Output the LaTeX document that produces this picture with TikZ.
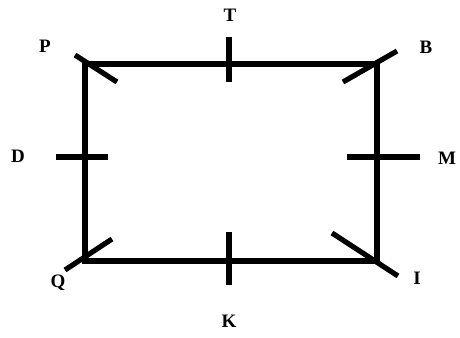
\documentclass[tikz,border=0pt]{standalone}
\usepackage{fontspec}
\setmainfont{Liberation Serif}
\begin{document}
\begin{tikzpicture}[x=1pt,y=-1pt,
  edge/.style={line width=5.2pt,line cap=rect,line join=miter},
  tickmark/.style={line width=5.2pt},
  lbl/.style={font=\fontsize{19}{19}\selectfont\bfseries,inner sep=0pt}]
\useasboundingbox (0,0) rectangle (460,337);
% corners
\coordinate (cP) at (85,64);
\coordinate (cB) at (377,64);
\coordinate (cI) at (377,261);
\coordinate (cQ) at (85,261);
\draw[edge] (cP) -- (cB) -- (cI) -- (cQ) -- cycle;
% tick end points
\coordinate (p1) at (75,55);   \coordinate (p2) at (117,82);
\coordinate (b1) at (343,82);  \coordinate (b2) at (397,51);
\coordinate (q1) at (65,270);  \coordinate (q2) at (112,239);
\coordinate (i1) at (332,233); \coordinate (i2) at (398,276);
\coordinate (t1) at (229,37);  \coordinate (t2) at (229,82);
\coordinate (k1) at (229,232); \coordinate (k2) at (229,285);
\coordinate (d1) at (56,157);  \coordinate (d2) at (108,157);
\coordinate (m1) at (347,157); \coordinate (m2) at (420,157);
\draw[tickmark] (p1) -- (p2);
\draw[tickmark] (b1) -- (b2);
\draw[tickmark] (q1) -- (q2);
\draw[tickmark] (i1) -- (i2);
\draw[tickmark] (t1) -- (t2);
\draw[tickmark] (k1) -- (k2);
\draw[tickmark] (d1) -- (d2);
\draw[tickmark] (m1) -- (m2);
% labels
\node[lbl] (P) at (45,46) {P};
\node[lbl] (B) at (426,47) {B};
\node[lbl] (T) at (230,15) {T};
\node[lbl] (D) at (18,156) {D};
\node[lbl] (M) at (447,158) {M};
\node[lbl] (Q) at (58,283) {Q};
\node[lbl] (I) at (417,278) {I};
\node[lbl] (K) at (229,321) {K};
\end{tikzpicture}
\end{document}
